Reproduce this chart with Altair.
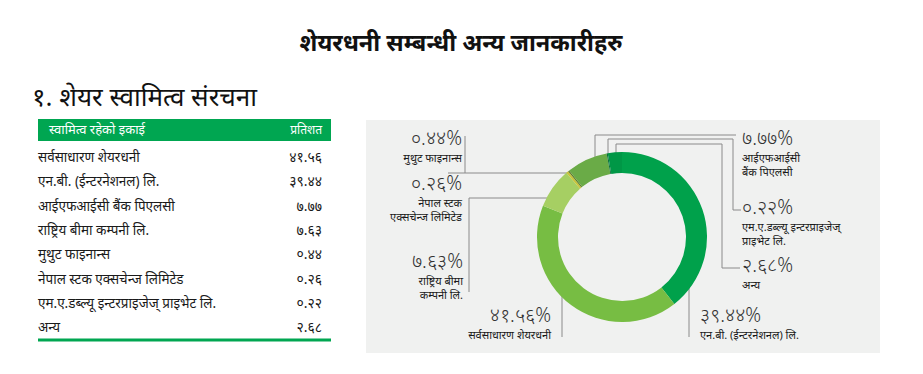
import altair as alt
import pandas as pd

# ---------------- data ----------------
title_text = "शेयरधनी सम्बन्धी अन्य जानकारीहरु"
subtitle_text = "१. शेयर स्वामित्व संरचना"
header_left = "स्वामित्व रहेको इकाई"
header_right = "प्रतिशत"

owners = [
    "सर्वसाधारण शेयरधनी",
    "एन.बी. (ईन्टरनेशनल) लि.",
    "आईएफआईसी बैंक पिएलसी",
    "राष्ट्रिय बीमा कम्पनी लि.",
    "मुथुट फाइनान्स",
    "नेपाल स्टक एक्सचेन्ज लिमिटेड",
    "एम.ए.डब्ल्यू इन्टरप्राइजेज् प्राइभेट लि.",
    "अन्य",
]
shares = [41.56, 39.44, 7.77, 7.63, 0.44, 0.26, 0.22, 2.68]

# order of slices clockwise from 12 o'clock
ring_order = [
    "एन.बी. (ईन्टरनेशनल) लि.",
    "सर्वसाधारण शेयरधनी",
    "राष्ट्रिय बीमा कम्पनी लि.",
    "मुथुट फाइनान्स",
    "नेपाल स्टक एक्सचेन्ज लिमिटेड",
    "आईएफआईसी बैंक पिएलसी",
    "एम.ए.डब्ल्यू इन्टरप्राइजेज् प्राइभेट लि.",
    "अन्य",
]
slice_colors = ["#00a14b", "#77bd43", "#a6cf63", "#c8c43c", "#5d7d2c",
                "#6aab47", "#0b6e3a", "#009746"]

# label text split into lines for the donut annotations
label_lines = {
    "सर्वसाधारण शेयरधनी": ["सर्वसाधारण शेयरधनी"],
    "एन.बी. (ईन्टरनेशनल) लि.": ["एन.बी. (ईन्टरनेशनल) लि."],
    "आईएफआईसी बैंक पिएलसी": ["आईएफआईसी", "बैंक पिएलसी"],
    "राष्ट्रिय बीमा कम्पनी लि.": ["राष्ट्रिय बीमा", "कम्पनी लि."],
    "मुथुट फाइनान्स": ["मुथुट फाइनान्स"],
    "नेपाल स्टक एक्सचेन्ज लिमिटेड": ["नेपाल स्टक", "एक्सचेन्ज लिमिटेड"],
    "एम.ए.डब्ल्यू इन्टरप्राइजेज् प्राइभेट लि.": ["एम.ए.डब्ल्यू इन्टरप्राइजेज्", "प्राइभेट लि."],
    "अन्य": ["अन्य"],
}

# ---------------- layout (styling only) ----------------
FONT = "Noto Sans"
DIG = str.maketrans("0123456789", "०१२३४५६७८९")


def dev(v):
    return f"{v:.2f}".translate(DIG)


W, H = 923, 374
CX, CY = 622, 237

# annotation anchor: x, y of percent, align
ann_layout = {
    "मुथुट फाइनान्स": (462, 139, "right"),
    "नेपाल स्टक एक्सचेन्ज लिमिटेड": (462, 184, "right"),
    "राष्ट्रिय बीमा कम्पनी लि.": (463, 262, "right"),
    "सर्वसाधारण शेयरधनी": (551, 316, "right"),
    "आईएफआईसी बैंक पिएलसी": (742, 139, "left"),
    "एम.ए.डब्ल्यू इन्टरप्राइजेज् प्राइभेट लि.": (742, 208, "left"),
    "अन्य": (742, 266, "left"),
    "एन.बी. (ईन्टरनेशनल) लि.": (700, 316, "left"),
}

# leader line segments (x, y, x2, y2)
leaders = [
    (465, 136, 465, 173), (448, 173, 570, 173),          # muthoot / nepse
    (469, 198, 558, 198), (469, 198, 469, 292),          # rastriya
    (562, 278, 562, 337),                                # public
    (689, 278, 689, 337),                                # NB
    (595, 135, 595, 163), (595, 135, 736, 135),          # IFIC
    (608, 139, 608, 156), (608, 139, 733, 139),
    (733, 139, 733, 210), (733, 210, 741, 210),          # MAW
    (616, 144, 616, 157), (616, 144, 722, 144),
    (722, 144, 722, 268), (722, 268, 740, 268),          # other
]

# ---------------- build frames ----------------
table_df = pd.DataFrame({
    "owner": owners,
    "value": [dev(v) for v in shares],
    "y": [158 + i * 24.3 for i in range(len(owners))],
})

ring_df = pd.DataFrame({
    "owner": ring_order,
    "share": [shares[owners.index(o)] for o in ring_order],
    "k": list(range(len(ring_order))),
})

pct_rows, name_rows = [], []
for o, v in zip(owners, shares):
    x, y, al = ann_layout[o]
    pct_rows.append({"x": x, "y": y, "t": dev(v) + "%", "al": al})
    for j, line in enumerate(label_lines[o]):
        name_rows.append({"x": x, "y": y + 20 + j * 14, "t": line, "al": al})
pct_df = pd.DataFrame(pct_rows)
name_df = pd.DataFrame(name_rows)
lead_df = pd.DataFrame(leaders, columns=["x", "y", "x2", "y2"])

PX = lambda f: alt.X(f, scale=None, axis=None)
PY = lambda f: alt.Y(f, scale=None, axis=None)

base_dummy = pd.DataFrame({"a": [0]})

panel = alt.Chart(base_dummy).mark_rect(color="#f0f1f0").encode(
    x=alt.value(366), x2=alt.value(880), y=alt.value(120), y2=alt.value(353))

title = alt.Chart(base_dummy).mark_text(
    text=title_text, font=FONT, fontSize=23.5, fontWeight="bold",
    color="#111111", align="center", baseline="middle"
).encode(x=alt.value(461), y=alt.value(44))

subtitle = alt.Chart(base_dummy).mark_text(
    text=subtitle_text, font=FONT, fontSize=26, color="#111111",
    align="left", baseline="middle"
).encode(x=alt.value(32), y=alt.value(98))

header = alt.Chart(base_dummy).mark_rect(color="#00a651").encode(
    x=alt.value(38), x2=alt.value(331), y=alt.value(119), y2=alt.value(141))
header_l = alt.Chart(base_dummy).mark_text(
    text=header_left, font=FONT, fontSize=13, color="white",
    align="left", baseline="middle").encode(x=alt.value(49), y=alt.value(130))
header_r = alt.Chart(base_dummy).mark_text(
    text=header_right, font=FONT, fontSize=12, color="white",
    align="right", baseline="middle").encode(x=alt.value(322), y=alt.value(130))
bottom_line = alt.Chart(base_dummy).mark_rule(color="#00a651", strokeWidth=3).encode(
    x=alt.value(38), x2=alt.value(331), y=alt.value(340))

rows_l = alt.Chart(table_df).mark_text(
    font=FONT, fontSize=13.5, color="#1a1a1a", align="left", baseline="middle"
).encode(x=alt.value(38), y=PY("y:Q"), text="owner:N")
rows_r = alt.Chart(table_df).mark_text(
    font=FONT, fontSize=14, color="#1a1a1a", align="right", baseline="middle"
).encode(x=alt.value(322), y=PY("y:Q"), text="value:N")

ring = alt.Chart(ring_df).mark_arc(innerRadius=64, outerRadius=85).encode(
    theta=alt.Theta("share:Q", stack=True),
    order=alt.Order("k:Q"),
    color=alt.Color("owner:N", scale=alt.Scale(domain=ring_order, range=slice_colors),
                    legend=None),
    x=alt.value(CX), y=alt.value(CY),
)

lines = alt.Chart(lead_df).mark_rule(color="#8a8a8a", strokeWidth=1).encode(
    x=PX("x:Q"), y=PY("y:Q"), x2="x2:Q", y2="y2:Q")


def txt(df, size, color, al, weight="normal"):
    return alt.Chart(df[df.al == al]).mark_text(
        font=FONT, fontSize=size, color=color, align=al, baseline="middle",
        fontWeight=weight
    ).encode(x=PX("x:Q"), y=PY("y:Q"), text="t:N")


pct_l = txt(pct_df, 19.5, "#333333", "right", 300)
pct_r = txt(pct_df, 19.5, "#333333", "left", 300)
name_l = txt(name_df, 11, "#1a1a1a", "right")
name_r = txt(name_df, 11, "#1a1a1a", "left")

chart = alt.layer(
    panel, title, subtitle, header, header_l, header_r, bottom_line,
    rows_l, rows_r, lines, ring, pct_l, pct_r, name_l, name_r
).properties(
    width=W, height=H, padding=0, autosize=alt.AutoSizeParams(type="none"),
    background="white"
).configure_view(stroke=None)

chart.save("out.html", embed_options={"renderer": "svg", "actions": False})
